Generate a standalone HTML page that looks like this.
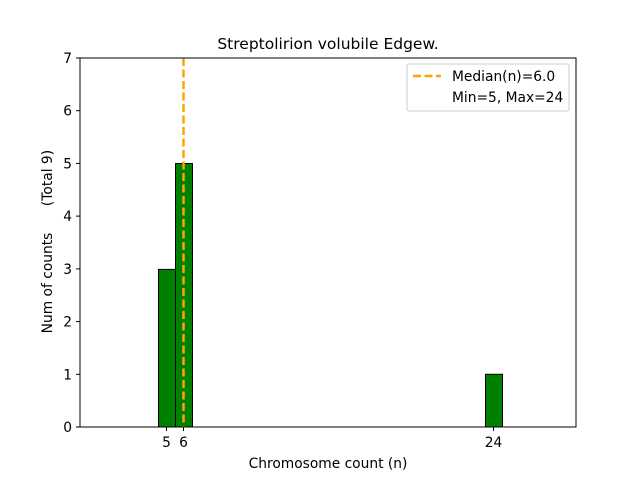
<!DOCTYPE html>
<html><head><style>body{margin:0;background:#fff}</style></head><body>
<svg width="640" height="480" xmlns="http://www.w3.org/2000/svg" font-family="DejaVu Sans, Liberation Sans, sans-serif">
<rect width="640" height="480" fill="#fff"/>
<g stroke="#000" stroke-width="1">
<rect x="158.5" y="269.4" width="17" height="157.6" fill="#008000"/>
<rect x="175.5" y="163.5" width="17" height="263.5" fill="#008000"/>
<rect x="485.5" y="374.3" width="17" height="52.7" fill="#008000"/>
<line x1="110" y1="427" x2="553" y2="427"/>
</g>
<line x1="183.5" y1="58" x2="183.5" y2="427" stroke="#FFA500" stroke-width="2.5" stroke-dasharray="8,3.5"/>
<rect x="80" y="58" width="496" height="369" fill="none" stroke="#000" stroke-width="1"/>
<g stroke="#000">
<line x1="80" y1="427" x2="76" y2="427"/><line x1="80" y1="374.3" x2="76" y2="374.3"/>
<line x1="80" y1="321.6" x2="76" y2="321.6"/><line x1="80" y1="268.9" x2="76" y2="268.9"/>
<line x1="80" y1="216.1" x2="76" y2="216.1"/><line x1="80" y1="163.4" x2="76" y2="163.4"/>
<line x1="80" y1="110.7" x2="76" y2="110.7"/><line x1="80" y1="58" x2="76" y2="58"/>
<line x1="166.5" y1="427" x2="166.5" y2="431"/><line x1="183.5" y1="427" x2="183.5" y2="431"/>
<line x1="493.5" y1="427" x2="493.5" y2="431"/>
</g>
<g font-size="13.8" text-anchor="end">
<text x="72" y="432">0</text><text x="72" y="379.3">1</text><text x="72" y="326.6">2</text>
<text x="72" y="273.9">3</text><text x="72" y="221.1">4</text><text x="72" y="168.4">5</text>
<text x="72" y="115.7">6</text><text x="72" y="63">7</text>
</g>
<g font-size="13.8" text-anchor="middle">
<text x="166.5" y="447">5</text><text x="183.5" y="447">6</text><text x="493.5" y="447">24</text>
<text x="328" y="468">Chromosome count (n)</text>
<text x="328" y="49" font-size="15.5">Streptolirion volubile Edgew.</text>
</g>
<text transform="translate(52,283) rotate(-90)" font-size="13.8" text-anchor="middle">Num of counts</text>
<text transform="translate(52,178) rotate(-90)" font-size="13.8" text-anchor="middle">(Total 9)</text>
<rect x="407" y="64" width="162" height="47" rx="2" fill="#fff" stroke="#ccc"/>
<line x1="413" y1="76" x2="441" y2="76" stroke="#FFA500" stroke-width="2.5" stroke-dasharray="8,3.5"/>
<text x="452" y="81" font-size="13.8">Median(n)=6.0</text>
<text x="452" y="102" font-size="13.8">Min=5, Max=24</text>
</svg>
</body></html>
